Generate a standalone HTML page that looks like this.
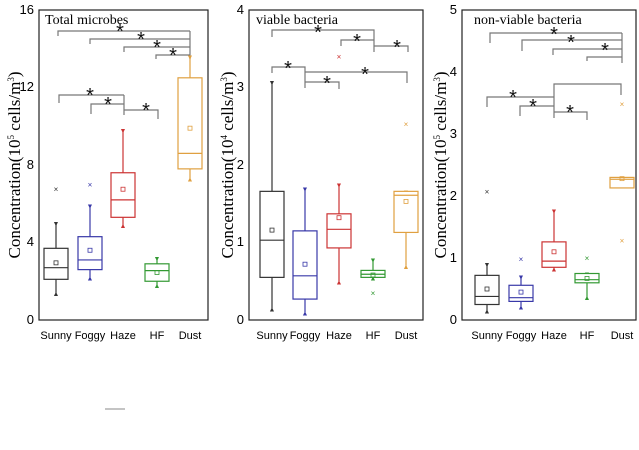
<!DOCTYPE html>
<html><head><meta charset="utf-8"><style>
body{margin:0;background:#fff}
svg text{font-family:"Liberation Sans",sans-serif}
.cat{font-family:"Liberation Mono",monospace;font-size:11px}
.tk{font-size:13px}
.yl{font-family:"Liberation Serif",serif;font-size:17px}
.ttl{font-family:"Liberation Serif",serif;font-size:14px}
.ast{font-size:20px;font-family:"Liberation Sans",sans-serif}
</style></head><body>
<svg id="s" width="639" height="445" viewBox="0 0 639 445" xmlns="http://www.w3.org/2000/svg">
<g fill="none" stroke="#222" stroke-width="1.2">
<rect x="39" y="10" width="169" height="310"/>
<rect x="249" y="10" width="174" height="310"/>
<rect x="462" y="10" width="174" height="310"/>
</g>
<line x1="105" y1="409" x2="125" y2="409" stroke="#888"/>
<g class="tk" text-anchor="end">
<text x="34" y="14">16</text><text x="34" y="91">12</text><text x="34" y="169">8</text><text x="34" y="246">4</text><text x="34" y="324">0</text>
<text x="244" y="14">4</text><text x="244" y="91">3</text><text x="244" y="169">2</text><text x="244" y="246">1</text><text x="244" y="324">0</text>
<text x="457" y="14">5</text><text x="457" y="76">4</text><text x="457" y="138">3</text><text x="457" y="200">2</text><text x="457" y="262">1</text><text x="457" y="324">0</text>
</g>
<g class="cat" text-anchor="middle">
<text x="56" y="339">Sunny</text><text x="90" y="339">Foggy</text><text x="123" y="339">Haze</text><text x="157" y="339">HF</text><text x="190" y="339">Dust</text>
<text x="272" y="339">Sunny</text><text x="305" y="339">Foggy</text><text x="339" y="339">Haze</text><text x="373" y="339">HF</text><text x="406" y="339">Dust</text>
<text x="487" y="339">Sunny</text><text x="521" y="339">Foggy</text><text x="554" y="339">Haze</text><text x="587" y="339">HF</text><text x="622" y="339">Dust</text>
</g>
<text class="ttl" x="45" y="24">Total microbes</text>
<text class="ttl" x="256" y="24">viable bacteria</text>
<text class="ttl" x="474" y="24">non-viable bacteria</text>
<text class="yl" transform="translate(20,165) rotate(-90)" text-anchor="middle">Concentration(10<tspan font-size="9" dy="-6">5</tspan><tspan dy="6"> cells/m</tspan><tspan font-size="9" dy="-6">3</tspan><tspan dy="6">)</tspan></text>
<text class="yl" transform="translate(233,165) rotate(-90)" text-anchor="middle">Concentration(10<tspan font-size="9" dy="-6">4</tspan><tspan dy="6"> cells/m</tspan><tspan font-size="9" dy="-6">3</tspan><tspan dy="6">)</tspan></text>
<text class="yl" transform="translate(446,165) rotate(-90)" text-anchor="middle">Concentration(10<tspan font-size="9" dy="-6">5</tspan><tspan dy="6"> cells/m</tspan><tspan font-size="9" dy="-6">3</tspan><tspan dy="6">)</tspan></text>
<g fill="none" stroke="#777" stroke-width="1.2">
<path d="M58 36V31H190M90 44V39H190M124 52V47H190M156 59V55H190M190 31V59"/>
<path d="M59 103V95H124M91 114V104H124M124 95V115M124 110H158V119"/>
<path d="M272 37V30H374V52M341 46V40H374M374 46H408V52"/>
<path d="M272 73V67H305V88M305 72H407V83M305 82H339V89"/>
<path d="M490 43V33H622M522 51V40H622M553 55V49H622M587 61V57H622M622 33V63"/>
<path d="M554 118V84H621V95M487 107V97H554M520 116V106H554M554 112H587V120"/>
</g>
<g class="ast" text-anchor="middle" fill="#111">
<text x="120" y="38">*</text><text x="141" y="46">*</text><text x="157" y="54">*</text><text x="173" y="62">*</text>
<text x="90" y="102">*</text><text x="108" y="111">*</text><text x="146" y="117">*</text>
<text x="318" y="39">*</text><text x="357" y="48">*</text><text x="397" y="54">*</text>
<text x="288" y="75">*</text><text x="365" y="81">*</text><text x="327" y="90">*</text>
<text x="554" y="41">*</text><text x="571" y="49">*</text><text x="605" y="57">*</text>
<text x="513" y="104">*</text><text x="533" y="113">*</text><text x="570" y="119">*</text>
</g>
<g id="boxes"></g>
</svg>
<script>
var g=document.getElementById('boxes'),h='';
var C=['#333','#3838a8','#cc3333','#339933','#e0a040'];
function P(x0,sc,xs,data){data.forEach(function(d,i){var x=xs[i],c=C[i],Y=function(v){return 320-v*sc};
var w=12;
if(d.w){h+='<line x1="'+x+'" x2="'+x+'" y1="'+Y(d.w[0])+'" y2="'+Y(d.w[1])+'" stroke="'+c+'" stroke-width="1.2"/>';
h+='<text x="'+x+'" y="'+(Y(d.w[0])+3)+'" font-size="7" fill="'+c+'" text-anchor="middle">▲</text>';
h+='<text x="'+x+'" y="'+(Y(d.w[1])+3)+'" font-size="7" fill="'+c+'" text-anchor="middle">▼</text>';}
h+='<rect x="'+(x-w)+'" y="'+Y(d.b[1])+'" width="'+(2*w)+'" height="'+(Y(d.b[0])-Y(d.b[1]))+'" fill="#fff" stroke="'+c+'" stroke-width="1.2"/>';
h+='<line x1="'+(x-w)+'" x2="'+(x+w)+'" y1="'+Y(d.m)+'" y2="'+Y(d.m)+'" stroke="'+c+'" stroke-width="1.2"/>';
h+='<rect x="'+(x-2)+'" y="'+(Y(d.a)-2)+'" width="4" height="4" fill="none" stroke="'+c+'" stroke-width="0.8"/>';
(d.o||[]).forEach(function(o){h+='<text x="'+x+'" y="'+(Y(o)+3)+'" font-size="8" fill="'+c+'" text-anchor="middle">×</text>';});
});}
P(39,19.375,[56,90,123,157,190],[
{w:[1.4,5.0],b:[2.1,3.7],m:2.7,a:2.95,o:[6.75]},
{w:[2.2,5.9],b:[2.6,4.3],m:3.1,a:3.6,o:[7.0]},
{w:[4.9,9.8],b:[5.3,7.6],m:6.2,a:6.75},
{w:[1.8,3.2],b:[2.0,2.9],m:2.55,a:2.45},
{w:[7.3,13.6],b:[7.8,12.5],m:8.6,a:9.9}]);
P(249,77.5,[272,305,339,373,406],[
{w:[0.15,3.07],b:[0.55,1.66],m:1.03,a:1.16},
{w:[0.1,1.7],b:[0.27,1.15],m:0.57,a:0.72},
{w:[0.5,1.75],b:[0.93,1.37],m:1.17,a:1.32,o:[3.4]},
{w:[0.55,0.78],b:[0.55,0.64],m:0.59,a:0.58,o:[0.35]},
{w:[0.7,1.66],b:[1.13,1.66],m:1.61,a:1.53,o:[2.53]}]);
P(462,62,[487,521,554,587,622],[
{w:[0.15,0.9],b:[0.25,0.72],m:0.38,a:0.5,o:[2.07]},
{w:[0.22,0.7],b:[0.3,0.56],m:0.36,a:0.45,o:[0.98]},
{w:[0.83,1.77],b:[0.85,1.26],m:0.95,a:1.1},
{w:[0.37,0.75],b:[0.6,0.75],m:0.65,a:0.67,o:[1.0]},
{b:[2.13,2.3],m:2.27,a:2.28,o:[3.48,1.28]}]);
g.innerHTML=h;
</script>
</body></html>
